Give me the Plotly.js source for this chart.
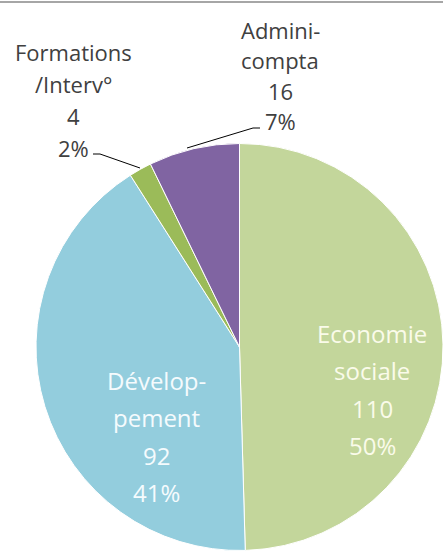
<!DOCTYPE html>
<html>
<head>
<meta charset="utf-8">
<script src="https://cdn.plot.ly/plotly-3.0.1.min.js"></script>
<style>html,body{margin:0;padding:0;background:#fff;}#chart{width:443px;height:551px;}</style>
</head>
<body>
<div id="chart"></div>
<script>
const categories = ["Economie sociale", "Développement", "Formations /Interv°", "Admini-compta"];
const labelLines = [["Economie", "sociale"], ["Dévelop-", "pement"], ["Formations", "/Interv°"], ["Admini-", "compta"]];
const values = [110, 92, 4, 16];
const colors = ["#C3D69B", "#93CDDD", "#9BBB59", "#8064A2"];

const W = 443, H = 551;
const px = x => x / W;
const py = y => 1 - y / H;
const total = values.reduce((a, b) => a + b, 0);
const pct = values.map(v => Math.round(v / total * 100) + "%");
const lines = i => labelLines[i].concat([String(values[i]), pct[i]]);

const fontFam = "'Open Sans', Lato, sans-serif";

const trace = {
  type: "pie",
  labels: categories,
  values: values,
  sort: false,
  direction: "clockwise",
  rotation: 0,
  textinfo: "none",
  hoverinfo: "label+value+percent",
  marker: { colors: colors, line: { color: "#ffffff", width: 1 } },
  domain: { x: [px(36), 1], y: [0, py(143)] },
  showlegend: false
};

// label blocks: category index, x centre (px), first line centre (px), line step (px), font size, colour
const blocks = [
  { i: 0, x: 372, y0: 333, step: 37.5, size: 24, color: "#FAFBEA" },
  { i: 1, x: 156, y0: 380, step: 37.5, size: 24, color: "#F5FBFD" },
  { i: 2, x: 73, y0: 52, step: 32, size: 22, color: "#404040" },
  { i: 3, x: 280, y0: 30, step: 30.5, size: 22, color: "#404040" }
];

const annotations = [];
blocks.forEach(b => {
  lines(b.i).forEach((t, k) => {
    annotations.push({
      xref: "paper", yref: "paper", showarrow: false,
      x: px(b.x), y: py(b.y0 + k * b.step),
      xanchor: "center", yanchor: "middle", align: "center",
      text: t,
      font: { size: b.size, color: b.color, family: fontFam }
    });
  });
});

const line = (pts) => ({
  type: "path", xref: "paper", yref: "paper",
  path: "M" + pts.map(p => px(p[0]) + "," + py(p[1])).join(" L"),
  line: { color: "#000000", width: 1 }
});

const shapes = [
  { type: "line", xref: "paper", yref: "paper", x0: 0, x1: 1, y0: py(2), y1: py(2), line: { color: "#A6A6A6", width: 2 } },
  line([[93, 154], [100, 154], [140, 168]]),
  line([[260, 128], [253, 128], [187, 148]])
];

const layout = {
  width: W, height: H,
  margin: { l: 0, r: 0, t: 0, b: 0 },
  paper_bgcolor: "#ffffff",
  plot_bgcolor: "#ffffff",
  annotations: annotations,
  shapes: shapes,
  showlegend: false
};

Plotly.newPlot("chart", [trace], layout, { displayModeBar: false, staticPlot: true });
</script>
</body>
</html>
